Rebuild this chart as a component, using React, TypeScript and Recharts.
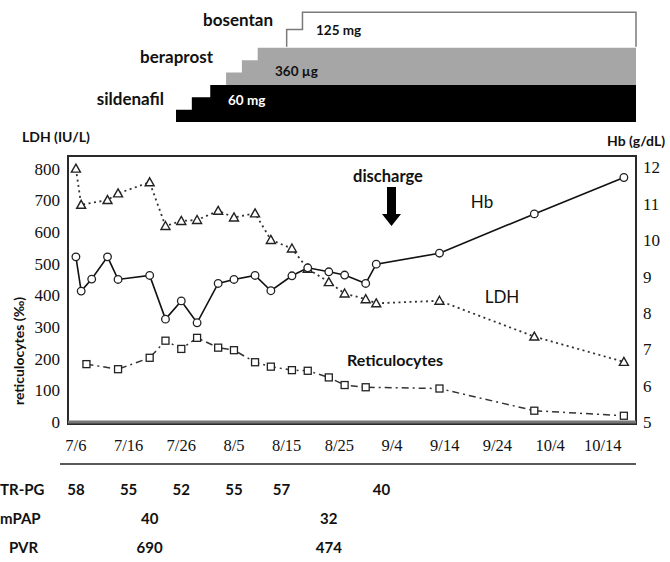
import { ComposedChart, Area, Line, XAxis, YAxis, ReferenceArea, ReferenceLine } from 'recharts';

// x values are days after 7/6
const tickDays = [0, 10, 20, 30, 40, 50, 60, 70, 80, 90, 100];
const tickLabels = ['7/6', '7/16', '7/26', '8/5', '8/15', '8/25', '9/4', '9/14', '9/24', '10/4', '10/14'];
const ldhTicks = [0, 100, 200, 300, 400, 500, 600, 700, 800];
const hbTicks = [5, 6, 7, 8, 9, 10, 11, 12];

const ldhDays = [0, 1, 6, 8, 14, 17, 20, 23, 27, 30, 34, 37, 41, 44, 48, 51, 55, 57, 69, 87, 104];
const ldhValues = [800, 686, 701, 722, 757, 619, 635, 638, 667, 646, 659, 575, 548, 484, 442, 406, 388, 375, 383, 270, 190];

const hbDays = [0, 1, 3, 6, 8, 14, 17, 20, 23, 27, 30, 34, 37, 41, 44, 48, 51, 55, 57, 69, 87, 104];
const hbValues = [9.54, 8.6, 8.93, 9.54, 8.92, 9.03, 7.83, 8.33, 7.73, 8.81, 8.92, 9.03, 8.61, 9.02, 9.24, 9.13, 9.04, 8.81, 9.34, 9.64, 10.72, 11.72];

const retDays = [2, 8, 14, 17, 20, 23, 27, 30, 34, 37, 41, 44, 48, 51, 55, 69, 87, 104];
const retValues = [183, 167, 203, 257, 231, 266, 235, 227, 189, 175, 164, 162, 141, 117, 110, 106, 36, 20];

// drug titration steps
const sildenafilDays = [19, 22, 25.5];
const sildenafilDoses = [20, 40, 60];
const beraprostDays = [28.5, 31.5, 34.5];
const beraprostDoses = [120, 240, 360];
const bosentanDays = [40, 43];
const bosentanDoses = [62.5, 125];

// table under the chart
const trpgDays = [0, 10, 20, 30, 39, 58];
const trpgValues = [58, 55, 52, 55, 57, 40];
const mpapDays = [14, 48];
const mpapValues = [40, 32];
const pvrDays = [14, 48];
const pvrValues = [690, 474];

const X_MIN = -1.5;
const X_MAX = 106.3;
const PLOT_L = 68;
const PLOT_R = 636;
const dayToX = (d: number) => PLOT_L + ((d - X_MIN) / (X_MAX - X_MIN)) * (PLOT_R - PLOT_L);

const pick = (days: number[], vals: number[], d: number) => {
  const i = days.indexOf(d);
  return i < 0 ? null : vals[i];
};
const stepAt = (days: number[], doses: number[], d: number) => {
  let v: number | null = null;
  days.forEach((s, i) => {
    if (d >= s) v = doses[i];
  });
  return v;
};

const allDays = Array.from(new Set([...ldhDays, ...hbDays, ...retDays])).sort((a, b) => a - b);
const mainData = allDays.map((d) => ({
  d,
  ldh: pick(ldhDays, ldhValues, d),
  hb: pick(hbDays, hbValues, d),
  ret: pick(retDays, retValues, d),
}));

const stepDays = Array.from(new Set([...sildenafilDays, ...beraprostDays, ...bosentanDays, X_MAX])).sort((a, b) => a - b);
const drugData: any[] = [];
stepDays.forEach((d) => {
  const row = {
    d,
    sil: stepAt(sildenafilDays, sildenafilDoses, d),
    ber: stepAt(beraprostDays, beraprostDoses, d),
    bos: stepAt(bosentanDays, bosentanDoses, d),
  };
  // close the outline of the bosentan box on both sides
  if (d === bosentanDays[0]) drugData.push({ ...row, bos: 0 });
  drugData.push(row);
  if (d === X_MAX) drugData.push({ ...row, bos: 0 });
});

const INK = '#222';
const SANS = 'Lato, "Open Sans", sans-serif';
const SERIF = '"Liberation Serif", "DejaVu Serif", serif';

const Triangle = (props: any) => {
  const { cx, cy, index } = props;
  if (cy == null || Number.isNaN(cy)) return <g key={`t-${index}`} />;
  return (
    <path
      key={`t-${index}`}
      d={`M${cx},${cy - 4.5}L${cx + 4.5},${cy + 3.5}L${cx - 4.5},${cy + 3.5}Z`}
      fill="#fff"
      stroke={INK}
      strokeWidth={1.4}
    />
  );
};

const Circle = (props: any) => {
  const { cx, cy, index } = props;
  if (cy == null || Number.isNaN(cy)) return <g key={`c-${index}`} />;
  return <circle key={`c-${index}`} cx={cx} cy={cy} r={3.8} fill="#fff" stroke={INK} strokeWidth={1.3} />;
};

const Square = (props: any) => {
  const { cx, cy, index } = props;
  if (cy == null || Number.isNaN(cy)) return <g key={`s-${index}`} />;
  return <rect key={`s-${index}`} x={cx - 3.5} y={cy - 3.5} width={7} height={7} fill="#fff" stroke={INK} strokeWidth={1.3} />;
};

const boldText = { fontFamily: SANS, fontWeight: 700, fill: '#111' } as const;

const ROW1 = 495;
const ROW2 = 524;
const ROW3 = 553;

export default function App() {
  return (
    <div style={{ position: 'absolute', left: 0, top: 0, width: 670, height: 562, background: '#fff' }}>
      <div style={{ position: 'absolute', left: 0, top: 0 }}>
        <ComposedChart width={670} height={122} data={drugData} margin={{ top: 12, right: 34, bottom: 0, left: 68 }}>
          <XAxis type="number" dataKey="d" domain={[X_MIN, X_MAX]} hide />
          <YAxis yAxisId="sil" domain={[0, 178.4]} hide />
          <YAxis yAxisId="ber" domain={[-357, 705]} hide />
          <YAxis yAxisId="bos" domain={[-273.6, 126.1]} hide />
          <Area yAxisId="sil" type="stepAfter" dataKey="sil" fill="#000" fillOpacity={1} stroke="none" dot={false} activeDot={false} isAnimationActive={false} />
          <Area yAxisId="ber" type="stepAfter" dataKey="ber" fill="#a6a6a6" fillOpacity={1} stroke="none" dot={false} activeDot={false} isAnimationActive={false} />
          <Area yAxisId="bos" type="stepAfter" dataKey="bos" fill="#fff" fillOpacity={1} stroke="#7a7a7a" strokeWidth={1.5} dot={false} activeDot={false} isAnimationActive={false} />
        </ComposedChart>
      </div>
      <div style={{ position: 'absolute', left: 0, top: 0 }}>
        <ComposedChart width={670} height={470} data={mainData} margin={{ top: 156, right: 0, bottom: 0, left: 0 }}>
          <XAxis
            type="number"
            dataKey="d"
            domain={[X_MIN, X_MAX]}
            ticks={tickDays}
            tickFormatter={(v: number) => tickLabels[tickDays.indexOf(v)] ?? ''}
            axisLine={false}
            tickLine={false}
            tickSize={0}
            tickMargin={15}
            height={46}
            interval={0}
            tick={{ fontFamily: SERIF, fontSize: 16.5, fill: '#111' }}
          />
          <YAxis
            yAxisId="l"
            domain={[-6, 840]}
            ticks={ldhTicks}
            width={68}
            axisLine={false}
            tickLine={false}
            tickSize={0}
            tickMargin={8}
            interval={0}
            tick={{ fontFamily: SERIF, fontSize: 17, fill: '#111' }}
          />
          <YAxis
            yAxisId="r"
            orientation="right"
            domain={[4.95, 12.31]}
            ticks={hbTicks}
            width={34}
            axisLine={false}
            tickLine={false}
            tickSize={0}
            tickMargin={7}
            interval={0}
            tick={{ fontFamily: SERIF, fontSize: 17, fill: '#111' }}
          />
          <ReferenceLine yAxisId="l" y={0} stroke="#777" strokeWidth={3} ifOverflow="visible" />
          <ReferenceArea
            yAxisId="l"
            x1={X_MIN}
            x2={X_MAX}
            y1={-6}
            y2={840}
            fill="none"
            fillOpacity={0}
            stroke="#2a2a2a"
            strokeWidth={2}
            ifOverflow="visible"
          />
          <Line yAxisId="l" type="linear" dataKey="ldh" stroke="#333" strokeWidth={1.8} strokeDasharray="2 3.5" connectNulls dot={Triangle} activeDot={false} isAnimationActive={false} />
          <Line yAxisId="l" type="linear" dataKey="ret" stroke="#333" strokeWidth={1.5} strokeDasharray="7 4 2 4" connectNulls dot={Square} activeDot={false} isAnimationActive={false} />
          <Line yAxisId="r" type="linear" dataKey="hb" stroke="#111" strokeWidth={1.6} connectNulls dot={Circle} activeDot={false} isAnimationActive={false} />
        </ComposedChart>
      </div>
      <svg width={670} height={562} style={{ position: 'absolute', left: 0, top: 0, pointerEvents: 'none' }}>
        <text x={273} y={25.5} textAnchor="end" fontSize={17} {...boldText}>bosentan</text>
        <text x={213} y={63} textAnchor="end" fontSize={17} {...boldText}>beraprost</text>
        <text x={164} y={105} textAnchor="end" fontSize={17} {...boldText}>sildenafil</text>
        <text x={316} y={35} fontSize={13.5} {...boldText}>125 mg</text>
        <text x={275} y={75.5} fontSize={13.5} {...boldText}>360 µg</text>
        <text x={228} y={105} fontSize={13.5} {...boldText} fill="#fff">60 mg</text>

        <text x={22} y={142} fontSize={14} {...boldText}>LDH (IU/L)</text>
        <text x={607} y={146} fontSize={14} {...boldText}>Hb (g/dL)</text>
        <text x={24} y={351} fontSize={14} textAnchor="middle" transform="rotate(-90 24 351)" {...boldText}>reticulocytes (‰)</text>

        <text x={388} y={182} fontSize={16.5} textAnchor="middle" {...boldText}>discharge</text>
        <path d="M387,187 L396,187 L396,214 L401,214 L391.5,226 L382,214 L387,214 Z" fill="#000" />
        <text x={482} y={208} fontSize={17} textAnchor="middle" fontFamily={SANS} fill="#111">Hb</text>
        <text x={502} y={303} fontSize={17} textAnchor="middle" fontFamily={SANS} fill="#111">LDH</text>
        <text x={395} y={366} fontSize={16} textAnchor="middle" {...boldText}>Reticulocytes</text>

        <line x1={60} x2={636} y1={464} y2={464} stroke={INK} strokeWidth={1.5} />
        <text x={0} y={ROW1} fontSize={15} {...boldText}>TR-PG</text>
        <text x={0} y={ROW2} fontSize={15} {...boldText}>mPAP</text>
        <text x={9} y={ROW3} fontSize={15} {...boldText}>PVR</text>
        {trpgDays.map((d, i) => (
          <text key={`tr-${i}`} x={dayToX(d)} y={ROW1} fontSize={15} textAnchor="middle" {...boldText}>{trpgValues[i]}</text>
        ))}
        {mpapDays.map((d, i) => (
          <text key={`mp-${i}`} x={dayToX(d)} y={ROW2} fontSize={15} textAnchor="middle" {...boldText}>{mpapValues[i]}</text>
        ))}
        {pvrDays.map((d, i) => (
          <text key={`pv-${i}`} x={dayToX(d)} y={ROW3} fontSize={15} textAnchor="middle" {...boldText}>{pvrValues[i]}</text>
        ))}
      </svg>
    </div>
  );
}
